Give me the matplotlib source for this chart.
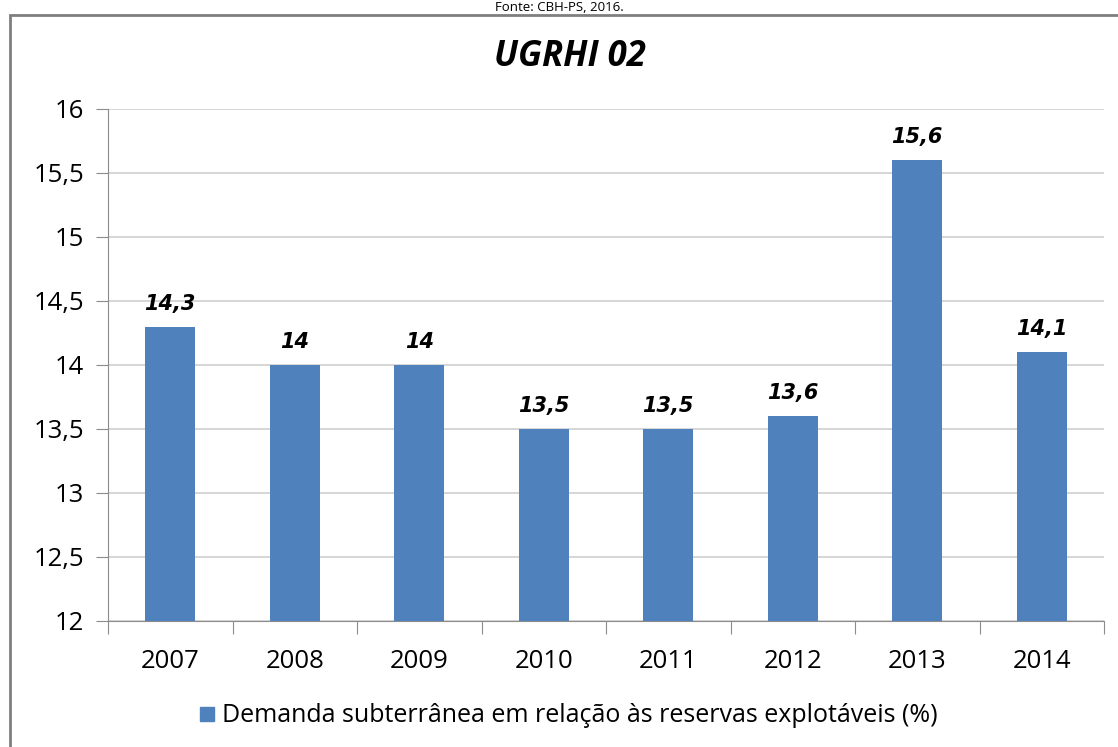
import matplotlib.pyplot as plt
from matplotlib.patches import Rectangle

# dados
anos = ['2007', '2008', '2009', '2010', '2011', '2012', '2013', '2014']
demanda = [14.3, 14.0, 14.0, 13.5, 13.5, 13.6, 15.6, 14.1]
y_ticks = [12, 12.5, 13, 13.5, 14, 14.5, 15, 15.5, 16]

def fmt(v):
    s = ('%g' % v).replace('.', ',')
    return s

fig = plt.figure(figsize=(11.18, 7.47), dpi=100)
ax = fig.add_axes([0.0966, 0.1687, 0.8909, 0.6854])

x = list(range(len(anos)))
ax.bar(x, [v - 12 for v in demanda], bottom=12, width=0.4, color='#4F81BD', zorder=3)

ax.set_xlim(-0.5, len(anos) - 0.5)
ax.set_ylim(12, 16)
ax.set_yticks(y_ticks)
ax.set_yticklabels([fmt(t) for t in y_ticks], fontsize=18.5, family='Open Sans')
ax.yaxis.grid(True, color='#d0d0d0', linewidth=1.2, zorder=0)
ax.set_axisbelow(True)

# ticks do eixo x nos limites das categorias
ax.set_xticks([i - 0.5 for i in range(len(anos) + 1)])
ax.set_xticklabels([])
ax.set_xticks(x, minor=True)
ax.set_xticklabels(anos, minor=True, fontsize=18.5, family='Open Sans')
ax.tick_params(axis='x', which='minor', length=0, pad=20)
ax.tick_params(axis='x', which='major', length=9, color='#8c8c8c')
ax.tick_params(axis='y', length=9, color='#8c8c8c', pad=8)

for s in ['top', 'right']:
    ax.spines[s].set_visible(False)
ax.spines['left'].set_color('#8c8c8c')
ax.spines['bottom'].set_color('#8c8c8c')

for i, v in enumerate(demanda):
    ax.text(i, v + 0.1, fmt(v), ha='center', va='bottom', fontsize=15,
            fontweight='bold', fontstyle='italic', family='DejaVu Sans')

fig.text(0.51, 1 - 57 / 747, 'UGRHI 02', ha='center', va='center', fontsize=25,
         fontweight='bold', fontstyle='italic', family='Open Sans')
fig.text(0.5, 1 - 1 / 747, 'Fonte: CBH-PS, 2016.', ha='center', va='top', fontsize=9.5,
         family='Open Sans')

# legenda
fig.patches.append(Rectangle((200 / 1118, 1 - 721 / 747), 14 / 1118, 14 / 747,
                             transform=fig.transFigure, color='#4F81BD'))
fig.text(222 / 1118, 1 - 715 / 747, 'Demanda subterrânea em relação às reservas explotáveis (%)',
         ha='left', va='center', fontsize=18, family='Open Sans')

# moldura
fig.patches.append(Rectangle((10 / 1118, -0.05), 1.1, 1 - 15 / 747 + 0.05,
                             transform=fig.transFigure, fill=False,
                             edgecolor='#7f7f7f', linewidth=2))

fig.savefig('out.png', dpi=100)
